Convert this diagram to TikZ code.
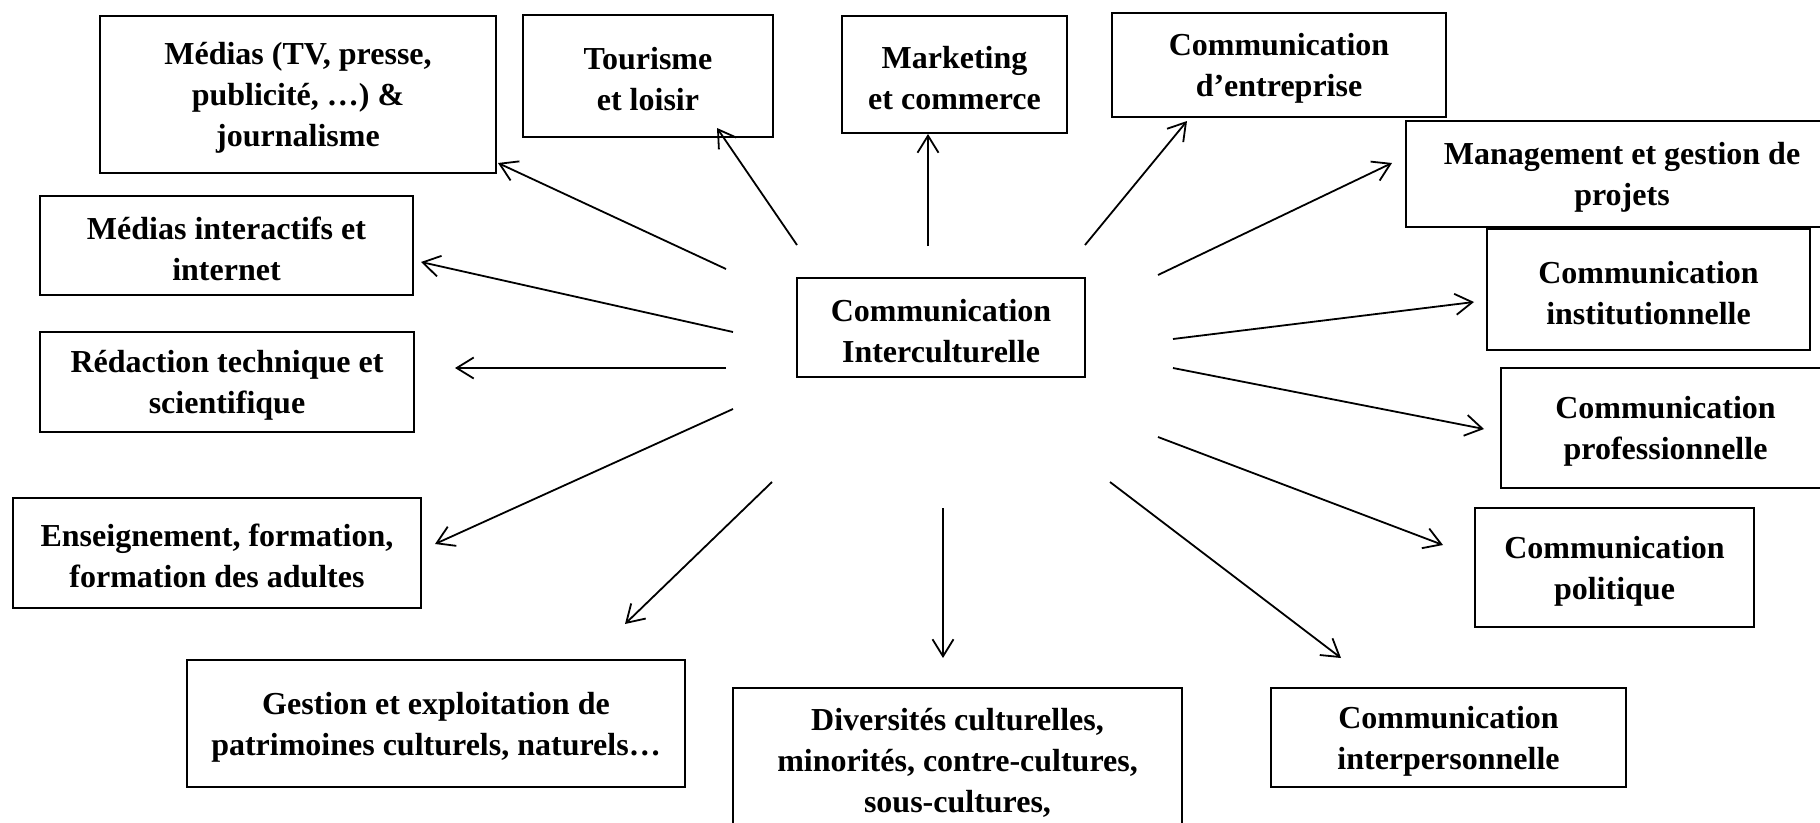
\documentclass[tikz,border=0pt]{standalone}
\usepackage{fontspec}
\setmainfont{Liberation Serif}
\usetikzlibrary{arrows.meta}
\newcommand{\tp}{\rule{0pt}{29pt}}
\tikzset{
  box/.style={draw, line width=2pt, align=center, inner sep=0pt,
    font=\bfseries\fontsize{32}{41}\selectfont},
  link/.style={line width=1.8pt, -{Straight Barb[length=17pt,width=21pt]}}
}
\begin{document}
\begin{tikzpicture}[x=1pt,y=-1pt]
\useasboundingbox (0,0) rectangle (1820,822);
% boxes
\node[box, minimum width=396pt, minimum height=157pt] (medtv) at (298,94.5) {\tp Médias (TV, presse,\\publicité, …) \&\\journalisme};
\node[box, minimum width=250pt, minimum height=122pt] (tour) at (648,76) {\tp Tourisme\\et loisir};
\node[box, minimum width=225pt, minimum height=117pt] (mark) at (954.5,74.5) {\tp Marketing\\et commerce};
\node[box, minimum width=334pt, minimum height=104pt] (entr) at (1279,65) {\tp Communication\\d’entreprise};
\node[box, minimum width=432pt, minimum height=106pt] (mgmt) at (1622,174) {\tp Management et gestion de\\projets};
\node[box, minimum width=323pt, minimum height=121pt] (inst) at (1648.5,289.5) {\tp Communication\\institutionnelle};
\node[box, minimum width=329pt, minimum height=120pt] (prof) at (1665.5,428) {\tp Communication\\professionnelle};
\node[box, minimum width=279pt, minimum height=119pt] (pol) at (1614.5,567.5) {\tp Communication\\politique};
\node[box, minimum width=355pt, minimum height=99pt] (interp) at (1448.5,737.5) {\tp Communication\\interpersonnelle};
\node[box, minimum width=449pt, minimum height=142pt] (div) at (957.5,759) {\tp Diversités culturelles,\\minorités, contre-cultures,\\sous-cultures,};
\node[box, minimum width=498pt, minimum height=127pt] (gest) at (436,723.5) {\tp Gestion et exploitation de\\patrimoines culturels, naturels…};
\node[box, minimum width=408pt, minimum height=110pt] (ens) at (217,553) {\tp Enseignement, formation,\\formation des adultes};
\node[box, minimum width=374pt, minimum height=100pt] (red) at (227,382) {\tp Rédaction technique et\\scientifique};
\node[box, minimum width=373pt, minimum height=99pt] (medint) at (226.5,245.5) {\tp Médias interactifs et\\internet};
\node[box, minimum width=288pt, minimum height=99pt] (center) at (941,327.5) {\tp Communication\\Interculturelle};
% arrow ends
\coordinate (s1) at (726,269);  \coordinate (t1) at (498,163);
\coordinate (s2) at (797,245);  \coordinate (t2) at (717,128);
\coordinate (s3) at (928,246);  \coordinate (t3) at (928,134);
\coordinate (s4) at (1085,245); \coordinate (t4) at (1187,121);
\coordinate (s5) at (1158,275); \coordinate (t5) at (1392,163);
\coordinate (s6) at (1173,339); \coordinate (t6) at (1474,302);
\coordinate (s7) at (1173,368); \coordinate (t7) at (1484,429);
\coordinate (s8) at (1158,437); \coordinate (t8) at (1443,545);
\coordinate (s9) at (1110,482); \coordinate (t9) at (1341,658);
\coordinate (s10) at (943,508); \coordinate (t10) at (943,658);
\coordinate (s11) at (772,482); \coordinate (t11) at (625,624);
\coordinate (s12) at (733,409); \coordinate (t12) at (435,544);
\coordinate (s13) at (726,368); \coordinate (t13) at (455,368);
\coordinate (s14) at (733,332); \coordinate (t14) at (421,262);
\foreach \i in {1,...,14} { \draw[link] (s\i) -- (t\i); }
\end{tikzpicture}
\end{document}
